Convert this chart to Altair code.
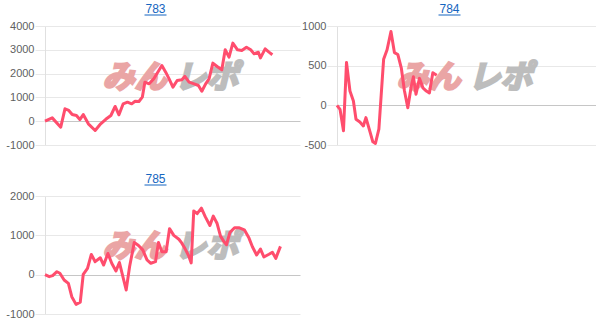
import altair as alt
import pandas as pd

LINE = "#ff4d6d"
TITLE_C = "#1565c0"

# ---- data (x = position along the shared horizontal range 0..60) ----
x783 = [0, 1.7, 3.7, 4.7, 5.6, 6.4, 7.4, 8.2, 9.0, 10.2, 11.8, 13.1, 14.3, 15.5, 16.5,
        17.4, 18.4, 19.4, 20.4, 21.2, 22.1, 22.9, 23.5, 24.5, 25.6, 27.5, 28.4, 29.2,
        30.1, 31.1, 32.2, 32.9, 33.9, 35.1, 36.1, 36.9, 37.8, 38.6, 39.5, 40.5, 41.6,
        42.4, 43.3, 44.2, 45.3, 46.3, 47.4, 48.4, 49.2, 50.2, 50.7, 51.8, 52.7, 53.5]
y783 = [0, 140, -250, 520, 450, 280, 240, 70, 280, -110, -390, -110, 80, 240, 620,
        270, 730, 800, 730, 840, 830, 1010, 1640, 1570, 1780, 2340, 2060, 1780,
        1430, 1710, 1740, 1880, 1640, 1570, 1500, 1260, 1570, 1780, 2440, 2300, 2160,
        3000, 2690, 3280, 3000, 2970, 3110, 3000, 2830, 2900, 2660, 3040, 2900, 2790]

x784 = [0, 0.7, 1.5, 2.2, 3.0, 3.8, 4.4, 5.3, 6.1, 6.7, 7.7, 8.3, 8.9, 9.7, 10.8,
        11.6, 12.5, 13.3, 14.1, 14.9, 15.6, 16.4, 17.2, 17.7, 18.3, 19.1, 19.9, 20.7,
        21.4, 22.2, 23.1]
y784 = [0, -50, -320, 540, 180, 55, -175, -210, -260, -155, -345, -460, -480, -300, 580,
        700, 930, 665, 640, 470, 190, -30, 240, 360, 140, 340, 220, 180,
        155, 410, 380]

x785 = [0, 1.0, 1.8, 2.8, 3.5, 4.5, 5.5, 6.3, 7.3, 8.3, 9.0, 10.0, 10.9, 11.8, 13.0,
        13.8, 14.8, 15.7, 16.7, 17.5, 19.1, 19.9, 21.0, 22.0, 23.0, 24.0, 24.9, 26.0,
        26.7, 27.5, 28.5, 29.3, 30.3, 31.5, 32.2, 33.0, 33.8, 34.4, 35.0, 35.8, 36.8,
        37.7, 38.8, 39.6, 40.5, 41.3, 42.1, 42.7, 43.5, 44.6, 45.6, 46.9, 48.0, 48.8,
        49.8, 50.7, 51.5, 52.7, 53.5, 54.3, 55.4]
y785 = [0, -50, -25, 75, 35, -135, -220, -560, -755, -700, 10, 160, 515, 330, 430,
        245, 540, 290, 95, 310, -390, 200, 820, 740, 630, 375, 290, 330,
        820, 585, 585, 1170, 1000, 900, 800, 650, 480, 300, 1620, 1550, 1690,
        1475, 1250, 1490, 1300, 980, 840, 760, 1070, 1195, 1195, 1140, 930, 710,
        500, 650, 450, 520, 570, 415, 720]

titles = ["783", "784", "785"]
ticks783 = [-1000, 0, 1000, 2000, 3000, 4000]
ticks784 = [-500, 0, 500, 1000]
ticks785 = [-1000, 0, 1000, 2000]
X_RANGE = [0, 60]

LABEL_EXPR = "datum.value < 0 ? '-' + abs(datum.value) : '' + datum.value"


def panel(title, xs, ys, ticks, w, h):
    df = pd.DataFrame({"x": xs, "y": ys})
    yscale = alt.Scale(domain=[ticks[0], ticks[-1]], nice=False, zero=False)
    one = alt.Data(values=[{"a": 1}])

    line = alt.Chart(df).mark_line(color=LINE, strokeWidth=3, strokeJoin="round").encode(
        x=alt.X("x:Q", scale=alt.Scale(domain=X_RANGE, nice=False, zero=False), axis=None),
        y=alt.Y("y:Q", scale=yscale,
                axis=alt.Axis(values=ticks, title=None, grid=True,
                              gridColor={"condition": {"test": "datum.value === 0",
                                                       "value": "#c6c6c6"},
                                         "value": "#e8e8e8"},
                              domainColor="#e0e0e0", tickColor="#e8e8e8", tickSize=10,
                              labelPadding=1, labelColor="#5f5f5f", labelFontSize=11,
                              labelFont="Liberation Sans", labelExpr=LABEL_EXPR,
                              labelOverlap=False, labelBound=False)),
    )

    wm1 = alt.Chart(one).mark_text(text="みん", font="Noto Sans CJK JP", fontSize=32,
                                   fontWeight="bold", fontStyle="italic", color="#eaa5a5",
                                   stroke="#eaa5a5", strokeWidth=2.5,
                                   align="center", baseline="middle").encode(
        x=alt.value(w / 2 - 38), y=alt.value(h / 2 - 8))
    wm2 = alt.Chart(one).mark_text(text="レポ", font="Noto Sans CJK JP", fontSize=32,
                                   fontWeight="bold", fontStyle="italic", color="#bdbdbd",
                                   stroke="#bdbdbd", strokeWidth=2.5,
                                   align="center", baseline="middle").encode(
        x=alt.value(w / 2 + 34), y=alt.value(h / 2 - 8))

    ttl = alt.Chart(one).mark_text(text=title, font="Liberation Sans", fontSize=12,
                                   color=TITLE_C, align="center", baseline="alphabetic").encode(
        x=alt.value(w / 2 - 17), y=alt.value(-13))
    und = alt.Chart(one).mark_rule(color=TITLE_C, strokeWidth=1).encode(
        x=alt.value(w / 2 - 17 - 11), x2=alt.value(w / 2 - 17 + 11), y=alt.value(-11))

    return alt.layer(wm1, wm2, line, ttl, und).properties(width=w, height=h)


p783 = panel(titles[0], x783, y783, ticks783, 255, 119)
p784 = panel(titles[1], x784, y784, ticks784, 259, 119)
p785 = panel(titles[2], x785, y785, ticks785, 255, 118)

chart = alt.vconcat(
    alt.hconcat(p783, p784, spacing=1),
    p785,
    spacing=23,
).properties(
    padding={"left": 5, "top": 3, "right": 0, "bottom": 0},
    background="white",
).configure_view(stroke=None).configure_axis(labelOverlap=False)

chart.save("out.html", embed_options={"renderer": "svg", "actions": False})
